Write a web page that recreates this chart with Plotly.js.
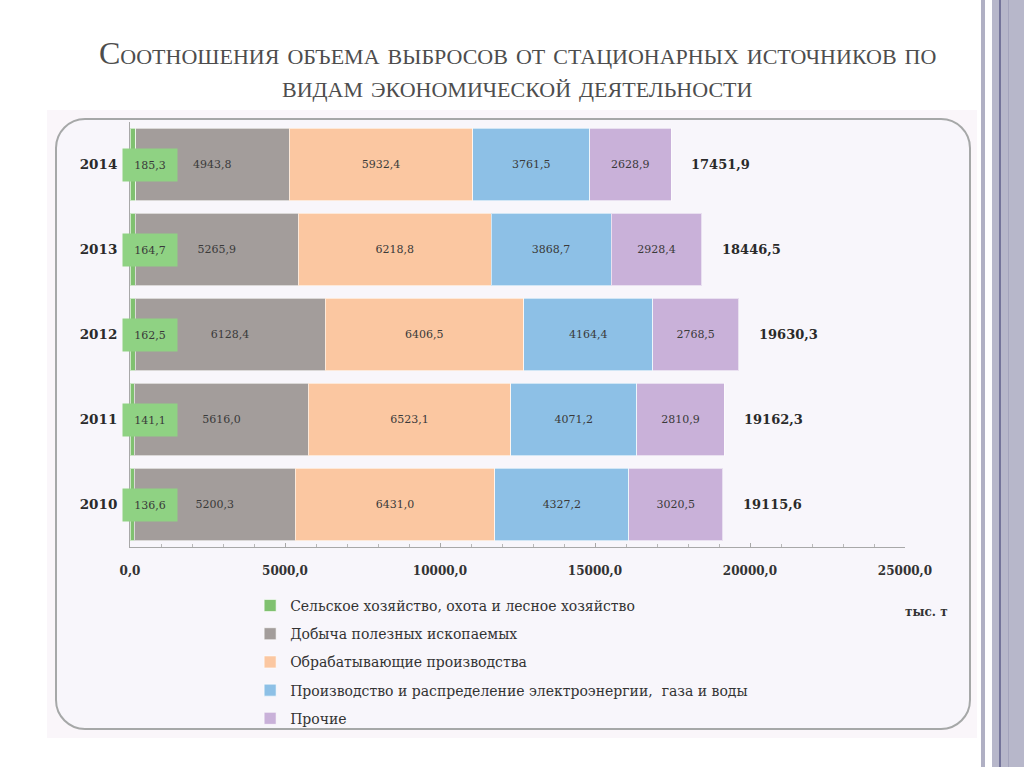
<!DOCTYPE html>
<html>
<head>
<meta charset="utf-8">
<script src="https://cdn.plot.ly/plotly-3.0.1.min.js"></script>
<style>
  html, body { margin: 0; padding: 0; background: #ffffff; width: 1024px; height: 767px; overflow: hidden; }
  #bg { position: absolute; left: 47px; top: 110px; width: 930px; height: 628px; background: #faf6fa; }
  #frame { position: absolute; left: 55px; top: 118px; width: 912px; height: 608px; border: 2px solid #a6a8a8; border-radius: 30px; background: #f8f6fb; }
  .stripe { position: absolute; top: 0; height: 767px; }
  #chart { position: absolute; left: 0; top: 0; width: 1024px; height: 767px; }
</style>
</head>
<body>
<div id="bg"></div>
<div id="frame"></div>
<div class="stripe" style="left:981px;width:4px;background:#b0b0c4;"></div>
<div class="stripe" style="left:992px;width:32px;background:#b7b7ca;"></div>
<div class="stripe" style="left:999px;width:2px;background:#74749a;"></div>
<div class="stripe" style="left:1008px;width:1px;background:#a4a4bc;"></div>
<div id="chart"></div>
<script>
const years = ['2010', '2011', '2012', '2013', '2014'];
const seriesNames = [
  'Сельское хозяйство, охота и лесное хозяйство',
  'Добыча полезных ископаемых',
  'Обрабатывающие производства',
  'Производство и распределение электроэнергии,  газа и воды',
  'Прочие'
];
const agriculture = [136.6, 141.1, 162.5, 164.7, 185.3];
const mining      = [5200.3, 5616.0, 6128.4, 5265.9, 4943.8];
const manufacturing = [6431.0, 6523.1, 6406.5, 6218.8, 5932.4];
const energy      = [4327.2, 4071.2, 4164.4, 3868.7, 3761.5];
const other       = [3020.5, 2810.9, 2768.5, 2928.4, 2628.9];
const totals      = [19115.6, 19162.3, 19630.3, 18446.5, 17451.9];
const xTickVals   = [0, 5000, 10000, 15000, 20000, 25000];
const xTickText   = ['0,0', '5000,0', '10000,0', '15000,0', '20000,0', '25000,0'];
const unitLabel   = 'тыс. т';
const titleLines  = ['Соотношения объема выбросов от стационарных источников по', 'видам экономической деятельности'];

const colors = ['#80c170', '#a39d9b', '#fbc7a1', '#8dc0e6', '#c9b1d9'];
const serif = 'DejaVu Serif, serif';
const titleSerif = 'Liberation Serif, Times New Roman, serif';
const fmt = v => v.toFixed(1).replace('.', ',');

const allSeries = [agriculture, mining, manufacturing, energy, other];
const traces = allSeries.map((vals, i) => ({
  type: 'bar',
  orientation: 'h',
  name: seriesNames[i],
  y: years,
  x: vals,
  marker: { color: colors[i], line: { color: 'rgba(255,255,255,0.6)', width: 1 } },
  text: i === 0 ? vals.map(() => '') : vals.map(fmt),
  textposition: 'inside',
  insidetextanchor: 'middle',
  constraintext: 'none',
  textfont: { family: serif, size: 11, color: '#3a3a3a' },
  hoverinfo: 'x+name',
  legendgroup: 'g' + i
}));

const annotations = [];
years.forEach((y, k) => {
  annotations.push({
    x: 0, y: k, xref: 'x', yref: 'y',
    xanchor: 'left', yanchor: 'middle', xshift: -8,
    text: fmt(agriculture[k]),
    showarrow: false,
    bgcolor: '#8fd283',
    width: 52, height: 30,
    align: 'center',
    font: { family: serif, size: 11, color: '#3a3a3a' }
  });
  annotations.push({
    x: totals[k], y: k, xref: 'x', yref: 'y',
    xanchor: 'left', yanchor: 'middle', xshift: 18,
    text: '<b>' + fmt(totals[k]) + '</b>',
    showarrow: false,
    font: { family: serif, size: 13, color: '#2a2a2a' }
  });
});
annotations.push({
  x: 1.028, y: -0.152, xref: 'paper', yref: 'paper',
  xanchor: 'center', yanchor: 'middle',
  text: '<b>' + unitLabel + '</b>', showarrow: false,
  font: { family: serif, size: 12, color: '#333' }
});
// title lines
annotations.push({
  x: 0.5, y: (547 - 53) / 425, xref: 'paper', yref: 'paper',
  xanchor: 'center', yanchor: 'middle', showarrow: false,
  text: titleLines[0],
  font: { family: titleSerif, size: 32, color: '#4d4d4d', variant: 'small-caps' }
});
annotations.push({
  x: 0.5, y: (547 - 86) / 425, xref: 'paper', yref: 'paper',
  xanchor: 'center', yanchor: 'middle', showarrow: false,
  text: titleLines[1],
  font: { family: titleSerif, size: 32, color: '#4d4d4d', variant: 'small-caps' }
});

const layout = {
  width: 1024, height: 767,
  margin: { l: 130, r: 119, t: 122, b: 220 },
  paper_bgcolor: 'rgba(0,0,0,0)',
  plot_bgcolor: 'rgba(0,0,0,0)',
  barmode: 'stack',
  bargap: 0.15,
  separators: ', ',
  xaxis: {
    range: [0, 25000],
    tickvals: xTickVals,
    ticktext: xTickText,
    showgrid: false,
    zeroline: false,
    showline: true, linecolor: '#a8a8a8', linewidth: 1,
    ticks: 'inside', ticklen: 4, tickcolor: '#a8a8a8',
    minor: { dtick: 1000, ticks: 'inside', ticklen: 3, tickcolor: '#b8b8b8' },
    tickfont: { family: serif, size: 12, color: '#333', weight: 'bold' },
    ticklabelstandoff: 13,
    fixedrange: true
  },
  yaxis: {
    type: 'category',
    range: [-0.5, 4.5],
    showgrid: false,
    zeroline: false,
    showline: true, linecolor: '#a8a8a8', linewidth: 1,
    ticks: '',
    tickfont: { family: serif, size: 13.5, color: '#2a2a2a', weight: 'bold' },
    ticklabelstandoff: 9,
    fixedrange: true
  },
  showlegend: true,
  legend: {
    x: 0.155, y: -0.101, xanchor: 'left', yanchor: 'top',
    orientation: 'v',
    traceorder: 'grouped',
    tracegroupgap: 7,
    bgcolor: 'rgba(0,0,0,0)',
    font: { family: serif, size: 14, color: '#333' },
    itemwidth: 30
  },
  annotations: annotations
};

Plotly.newPlot('chart', traces, layout, { displayModeBar: false, staticPlot: true });
</script>
</body>
</html>
